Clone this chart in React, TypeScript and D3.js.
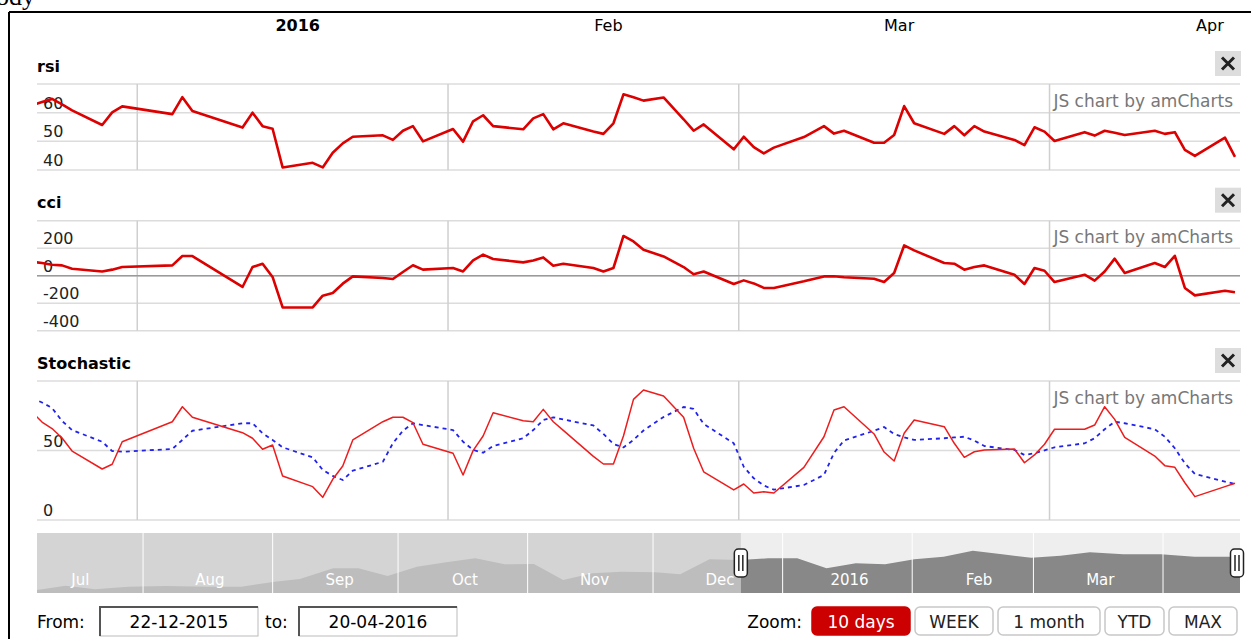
import * as d3 from "d3";

// trading days shown in the panels
const dates = [
  "2015-12-21", "2015-12-22", "2015-12-23", "2015-12-24", "2015-12-25", "2015-12-28", "2015-12-29", "2015-12-30",
  "2016-01-04", "2016-01-05", "2016-01-06", "2016-01-11", "2016-01-12", "2016-01-13", "2016-01-14", "2016-01-15",
  "2016-01-18", "2016-01-19", "2016-01-20", "2016-01-21", "2016-01-22", "2016-01-25", "2016-01-26", "2016-01-27", "2016-01-28", "2016-01-29",
  "2016-02-01", "2016-02-02", "2016-02-03", "2016-02-04", "2016-02-05", "2016-02-08", "2016-02-09", "2016-02-10", "2016-02-11", "2016-02-12",
  "2016-02-15", "2016-02-16", "2016-02-17", "2016-02-18", "2016-02-19", "2016-02-20", "2016-02-22", "2016-02-24", "2016-02-25", "2016-02-26",
  "2016-02-29", "2016-03-01", "2016-03-02", "2016-03-03", "2016-03-04", "2016-03-07", "2016-03-09", "2016-03-10", "2016-03-11",
  "2016-03-14", "2016-03-15", "2016-03-16", "2016-03-17", "2016-03-18", "2016-03-21", "2016-03-22", "2016-03-23", "2016-03-24", "2016-03-25",
  "2016-03-28", "2016-03-29", "2016-03-30", "2016-03-31", "2016-04-01", "2016-04-04", "2016-04-05", "2016-04-06", "2016-04-07", "2016-04-08",
  "2016-04-11", "2016-04-12", "2016-04-13", "2016-04-14", "2016-04-15", "2016-04-18", "2016-04-19",
];

const rsi = [
  62.6, 63.7, 64.8, 62.9, 60.8, 55.7, 60.1, 62.2,
  59.5, 65.4, 60.6, 54.8, 60.0, 55.3, 54.4, 40.9,
  42.5, 40.9, 46.0, 49.3, 51.6, 52.1, 50.5, 53.7, 55.3, 50.0,
  54.3, 49.9, 57.0, 59.1, 55.3, 54.2, 58.0, 59.5, 54.2, 56.3,
  53.4, 52.6, 56.3, 66.4, 65.4, 64.2, 65.3, 57.7, 53.7, 55.9,
  47.2, 51.6, 48.0, 45.8, 47.8, 51.5, 55.3, 52.7, 53.7,
  49.5, 49.5, 52.2, 62.3, 56.3, 52.6, 55.3, 52.1, 55.3, 53.4,
  50.5, 48.7, 54.9, 53.4, 50.1, 53.2, 52.0, 53.7, 53.0, 52.2,
  53.7, 52.6, 53.2, 47.0, 44.9, 51.3, 44.6,
];

const cci = [
  102, 92, 80, 75, 51, 31, 44, 63,
  75, 143, 143, -82, 63, 87, -9, -231,
  -231, -145, -126, -58, -5, -17, -24, 27, 76, 44,
  56, 31, 111, 153, 121, 97, 111, 133, 73, 87,
  56, 31, 56, 289, 249, 189, 140, 63, 11, 31,
  -60, -34, -56, -89, -89, -41, -5, -4, -11,
  -22, -46, 20, 220, 184, 92, 87, 44, 63, 75,
  7, -60, 56, 36, -46, 7, -36, 31, 124, 20,
  92, 63, 145, -89, -143, -109, -121,
];

const stochK = [
  77.7, 70.5, 65.8, 59.0, 49.6, 36.7, 40.1, 56.3,
  70.7, 81.5, 73.9, 62.8, 58.8, 50.9, 54.0, 31.7,
  24.0, 16.3, 29.3, 38.8, 57.6, 70.7, 73.9, 73.9, 70.0, 54.5,
  48.0, 32.4, 49.9, 60.4, 77.2, 71.4, 70.7, 79.6, 70.7, 64.5,
  45.8, 40.3, 40.3, 60.4, 86.8, 93.5, 89.2, 73.9, 51.6, 34.7,
  21.6, 25.9, 19.4, 20.4, 19.4, 37.9, 59.9, 79.1, 81.5,
  61.9, 48.9, 42.4, 62.4, 71.9, 67.1, 55.2, 45.1, 49.1, 50.4,
  51.1, 41.2, 46.8, 54.5, 65.3, 65.3, 68.3, 81.5, 72.4, 59.5,
  46.0, 39.1, 37.9, 26.8, 16.8, 24.0, 26.4,
];

const stochD = [
  87.8, 84.5, 80.6, 71.2, 64.7, 56.3, 49.6, 49.1,
  51.1, 57.6, 64.2, 69.6, 69.6, 62.4, 57.6, 52.3,
  45.1, 36.0, 31.7, 28.8, 35.5, 41.9, 55.2, 64.2, 69.6, 68.3,
  64.7, 56.3, 50.4, 48.4, 53.2, 58.8, 64.7, 71.9, 73.9, 72.3,
  68.0, 61.9, 54.7, 52.2, 57.6, 64.4, 74.1, 81.3, 79.9, 69.1,
  55.2, 38.3, 30.0, 24.8, 21.8, 25.2, 32.4, 48.2, 57.2,
  64.2, 66.9, 61.9, 59.5, 57.6, 58.8, 59.4, 59.9, 57.1, 53.2,
  50.4, 46.8, 48.0, 50.1, 52.3, 55.2, 58.8, 65.3, 70.7, 69.6,
  65.3, 59.9, 51.6, 40.8, 33.1, 27.6, 25.9,
];

// navigator (scrollbar) series
const navDates = [
  "2015-07-06", "2015-07-13", "2015-07-20", "2015-07-28", "2015-08-06", "2015-08-16", "2015-08-24", "2015-09-01",
  "2015-09-07", "2015-09-15", "2015-09-21", "2015-09-28", "2015-10-05", "2015-10-12", "2015-10-19", "2015-10-26",
  "2015-11-02", "2015-11-09", "2015-11-16", "2015-11-23", "2015-12-01", "2015-12-07", "2015-12-14", "2015-12-21",
  "2015-12-28", "2016-01-04", "2016-01-11", "2016-01-18", "2016-01-25", "2016-02-01", "2016-02-08", "2016-02-15",
  "2016-02-22", "2016-02-29", "2016-03-07", "2016-03-14", "2016-03-22", "2016-03-31", "2016-04-08", "2016-04-19",
];
const navValues = [
  3, 7.3, 3.7, 6.3, 7, 6.3, 6.3, 11.3,
  14, 24.7, 24.7, 17, 26.3, 30.7, 34.7, 28.7,
  29, 13, 19.7, 21.3, 20.7, 18.7, 33.7, 33,
  34.7, 34.7, 24.7, 29.7, 28.7, 33.7, 36.3, 42.3,
  38.7, 35.3, 37.3, 40.7, 38.7, 38.7, 36.3, 36.3,
];

const zoomButtons = ["10 days", "WEEK", "1 month", "YTD", "MAX"];
const fromText = "22-12-2015";
const toText = "20-04-2016";

const FONT = "'DejaVu Sans', Verdana, sans-serif";
const L = 37;
const R = 1240;

const parse = d3.utcParse("%Y-%m-%d");
const mid = (s: string) => d3.utcHour.offset(parse(s)!, 12);
const pts = dates.map(mid);

const x = d3
  .scaleUtc()
  .domain([new Date(Date.UTC(2015, 11, 22)), new Date(Date.UTC(2016, 3, 20))])
  .range([L, R]);

const navX = d3
  .scaleUtc()
  .domain([new Date(Date.UTC(2015, 6, 6, 15)), new Date(Date.UTC(2016, 3, 19, 10))])
  .range([L, R]);

const monthLabel = (m: Date) =>
  m.getUTCMonth() === 0 ? d3.utcFormat("%Y")(m) : d3.utcFormat("%b")(m);

type Series = { values: number[]; color: string; width: number; dash?: string };
type Panel = {
  key: string;
  title: string;
  top: number;
  bottom: number;
  domain: [number, number];
  ticks: number[];
  zero?: boolean;
  series: Series[];
};

const panels: Panel[] = [
  {
    key: "rsi", title: "rsi", top: 84, bottom: 170, domain: [40, 70], ticks: [40, 50, 60, 70],
    series: [{ values: rsi, color: "#dd0000", width: 2.6 }],
  },
  {
    key: "cci", title: "cci", top: 220.7, bottom: 330.7, domain: [-400, 400], ticks: [-400, -200, 0, 200, 400], zero: true,
    series: [{ values: cci, color: "#dd0000", width: 2.6 }],
  },
  {
    key: "stoch", title: "Stochastic", top: 381, bottom: 520, domain: [0, 100], ticks: [0, 50, 100],
    series: [
      { values: stochD, color: "#2222ee", width: 1.8, dash: "4,4" },
      { values: stochK, color: "#ee1c1c", width: 1.5 },
    ],
  },
];

const months = d3.utcMonths(new Date(Date.UTC(2016, 0, 1)), new Date(Date.UTC(2016, 4, 1)));
const navMonths = d3.utcMonths(new Date(Date.UTC(2015, 6, 1)), new Date(Date.UTC(2016, 4, 1)));

function PanelView({ p }: { p: Panel }) {
  const y = d3.scaleLinear().domain(p.domain).range([p.bottom, p.top]);
  const clipId = `clip-${p.key}`;
  return (
    <g>
      <defs>
        <clipPath id={clipId}>
          <rect x={L} y={p.top - 4} width={R - L} height={p.bottom - p.top + 8} />
        </clipPath>
      </defs>
      <text x={L} y={p.top - 12.5} fontFamily={FONT} fontSize={16} fontWeight="bold" fill="#000">
        {p.title}
      </text>
      {p.ticks.map((t) => (
        <line key={t} x1={L} x2={R} y1={y(t)} y2={y(t)} stroke="#dcdcdc" strokeWidth={1.5} />
      ))}
      {months.map((m) => (
        <line key={+m} x1={x(m)} x2={x(m)} y1={p.top} y2={p.bottom} stroke="#cfcfcf" strokeWidth={1.5} />
      ))}
      {p.zero && <line x1={L} x2={R} y1={y(0)} y2={y(0)} stroke="#9a9a9a" strokeWidth={1.5} />}
      {p.ticks
        .filter((t) => t !== p.domain[1])
        .map((t) => (
          <text key={t} x={43} y={y(t) - 4} fontFamily={FONT} fontSize={16} fill="#222">
            {t}
          </text>
        ))}
      <text x={1233} y={p.top + 22.5} textAnchor="end" fontFamily={FONT} fontSize={17} fill="#777">
        JS chart by amCharts
      </text>
      <g clipPath={`url(#${clipId})`}>
        {p.series.map((s, i) => {
          const line = d3
            .line<number>()
            .x((_, j) => x(pts[j]))
            .y((v) => y(v));
          return (
            <path
              key={i}
              d={line(s.values) || ""}
              fill="none"
              stroke={s.color}
              strokeWidth={s.width}
              strokeDasharray={s.dash}
              strokeLinejoin="round"
            />
          );
        })}
      </g>
      <rect x={1215} y={p.top - 33} width={26} height={25} fill="#dddddd" />
      <path
        d={`M${1222},${p.top - 26.5} L${1234},${p.top - 14.5} M${1234},${p.top - 26.5} L${1222},${p.top - 14.5}`}
        stroke="#222"
        strokeWidth={3}
      />
    </g>
  );
}

function Navigator() {
  const top = 533;
  const bottom = 593;
  const ny = d3.scaleLinear().domain([0, 60]).range([bottom, top]);
  const navPts = navDates.map(mid);
  const area = d3
    .area<number>()
    .x((_, i) => navX(navPts[i]))
    .y0(bottom)
    .y1((v) => ny(v));
  const selStart = navX(new Date(Date.UTC(2015, 11, 22)));
  const selEnd = Math.min(R, navX(new Date(Date.UTC(2016, 3, 20))));
  const areaD = area(navValues) || "";
  const grip = (cx: number) => (
    <g>
      <rect x={cx - 6.5} y={549} width={13} height={28} rx={4} fill="#fff" stroke="#222" strokeWidth={1.5} />
      <line x1={cx - 2} x2={cx - 2} y1={555} y2={571} stroke="#222" strokeWidth={1.5} />
      <line x1={cx + 2} x2={cx + 2} y1={555} y2={571} stroke="#222" strokeWidth={1.5} />
    </g>
  );
  return (
    <g>
      <defs>
        <clipPath id="nav-all">
          <rect x={L} y={top} width={R - L} height={bottom - top} />
        </clipPath>
        <clipPath id="nav-sel">
          <rect x={selStart} y={top} width={selEnd - selStart} height={bottom - top} />
        </clipPath>
      </defs>
      <g clipPath="url(#nav-all)">
        <rect x={L} y={top} width={R - L} height={bottom - top} fill="#d4d4d4" />
        <path d={areaD} fill="#bdbdbd" />
        <g clipPath="url(#nav-sel)">
          <rect x={L} y={top} width={R - L} height={bottom - top} fill="#eeeeee" />
          <path d={areaD} fill="#888888" />
        </g>
        {navMonths
          .filter((m) => navX(m) > L && navX(m) < R)
          .map((m) => (
            <line key={+m} x1={navX(m)} x2={navX(m)} y1={top} y2={bottom} stroke="#ffffff" strokeWidth={1} />
          ))}
        {navMonths
          .filter((m) => navX(d3.utcDay.offset(m, 16)) < R - 40)
          .map((m) => (
            <text
              key={+m}
              x={navX(d3.utcDay.offset(m, 16))}
              y={585}
              textAnchor="middle"
              fontFamily={FONT}
              fontSize={15}
              fill="#ffffff"
            >
              {monthLabel(m)}
            </text>
          ))}
      </g>
      {grip(selStart)}
      {grip(selEnd - 3)}
    </g>
  );
}

function Controls() {
  const widths = [98, 78, 102, 59, 68];
  const starts = widths.map((_, i) => 812 + d3.sum(widths.slice(0, i)) + 5 * i);
  const box = (bx: number, label: string) => (
    <g>
      <rect x={bx} y={607} width={158} height={29} fill="#fff" stroke="#bbb" strokeWidth={1} />
      <path d={`M${bx},${636} L${bx},${607} L${bx + 158},${607}`} fill="none" stroke="#555" strokeWidth={2} />
      <text x={bx + 79} y={628} textAnchor="middle" fontFamily={FONT} fontSize={17} fill="#000">
        {label}
      </text>
    </g>
  );
  return (
    <g>
      <text x={L} y={628} fontFamily={FONT} fontSize={17} fill="#000">From:</text>
      {box(100, fromText)}
      <text x={265} y={628} fontFamily={FONT} fontSize={17} fill="#000">to:</text>
      {box(299, toText)}
      <text x={802} y={628} textAnchor="end" fontFamily={FONT} fontSize={17} fill="#000">Zoom:</text>
      {zoomButtons.map((b, i) => (
        <g key={b}>
          <rect
            x={starts[i]}
            y={607}
            width={widths[i]}
            height={28}
            rx={5}
            fill={i === 0 ? "#cc0000" : "#ffffff"}
            stroke={i === 0 ? "#cc0000" : "#c8c8c8"}
            strokeWidth={1.5}
          />
          <text
            x={starts[i] + widths[i] / 2}
            y={628}
            textAnchor="middle"
            fontFamily={FONT}
            fontSize={17}
            fill={i === 0 ? "#ffffff" : "#222"}
          >
            {b}
          </text>
        </g>
      ))}
    </g>
  );
}

export default function App() {
  return (
    <svg
      width={1251}
      height={639}
      style={{ position: "absolute", left: 0, top: 0, background: "#fff" }}
    >
      <rect width={1251} height={639} fill="#fff" />
      <text x={-4} y={5} fontFamily="'Liberation Serif', serif" fontSize={26} fill="#000">ody</text>
      <line x1={9} x2={1251} y1={12} y2={12} stroke="#000" strokeWidth={2} />
      <line x1={9} x2={9} y1={12} y2={639} stroke="#000" strokeWidth={2} />
      {months.map((m) => (
        <text
          key={+m}
          x={x(d3.utcDay.offset(m, 16))}
          y={31}
          textAnchor="middle"
          fontFamily={FONT}
          fontSize={16}
          fontWeight={m.getUTCMonth() === 0 ? "bold" : "normal"}
          fill="#000"
        >
          {monthLabel(m)}
        </text>
      ))}
      {panels.map((p) => (
        <PanelView key={p.key} p={p} />
      ))}
      <Navigator />
      <Controls />
    </svg>
  );
}
